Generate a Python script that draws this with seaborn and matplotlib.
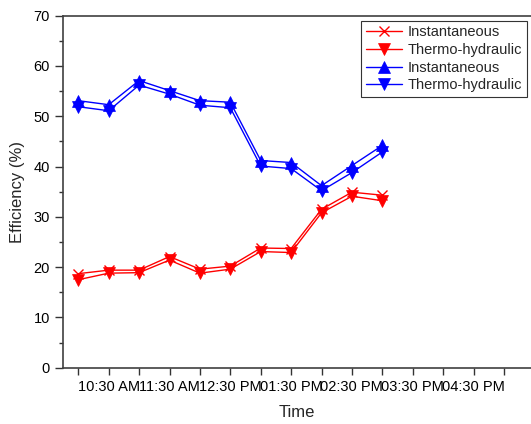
import matplotlib
matplotlib.use("Agg")
import matplotlib.pyplot as plt
import seaborn as sns
import pandas as pd
import numpy as np

# Time in hours (10.0 = 10:00 AM)
hours = [10.0, 10.5, 11.0, 11.5, 12.0, 12.5, 13.0, 13.5, 14.0, 14.5, 15.0]
red_inst = [18.7, 19.4, 19.4, 22.1, 19.6, 20.2, 23.8, 23.7, 31.5, 34.9, 34.3]
red_thermo = [17.5, 18.8, 18.9, 21.4, 18.8, 19.6, 23.1, 22.9, 30.8, 34.1, 33.2]
blue_inst = [53.1, 52.3, 57.1, 55.1, 53.1, 52.8, 41.2, 40.8, 36.2, 40.2, 44.2]
blue_thermo = [51.9, 51.1, 56.2, 54.4, 52.2, 51.7, 40.1, 39.6, 35.2, 38.8, 42.9]
series_labels = ["Instantaneous", "Thermo-hydraulic", "Instantaneous", "Thermo-hydraulic"]
tick_hours = [10.0, 10.5, 11.0, 11.5, 12.0, 12.5, 13.0, 13.5, 14.0, 14.5, 15.0, 15.5, 16.0, 16.5, 17.0]
tick_labels = ["", "10:30 AM", "", "11:30 AM", "", "12:30 PM", "", "01:30 PM", "",
               "02:30 PM", "", "03:30 PM", "", "04:30 PM", ""]

sns.set_style("ticks")
plt.rcParams['font.family'] = ['Liberation Sans', 'DejaVu Sans']

fig = plt.figure(figsize=(5.31, 4.24), dpi=100)
ax = fig.add_axes([63/531, 1 - 367.7/424, 468/531, (367.7 - 15.7)/424])

RED = "#FF0000"
BLUE = "#0000FF"
specs = [
    (red_inst, RED, "x", 7),
    (red_thermo, RED, "v", 8),
    (blue_inst, BLUE, "^", 8),
    (blue_thermo, BLUE, "v", 8),
]
for (vals, col, mk, ms), lab in zip(specs, series_labels):
    df = pd.DataFrame({"Time": hours, "Efficiency": vals})
    sns.lineplot(data=df, x="Time", y="Efficiency", ax=ax, color=col, marker=mk,
                 markersize=ms, markeredgecolor=col, markeredgewidth=1.0 if mk == "x" else 0.5,
                 linewidth=1.0, label=lab)

ax.set_xlim(9.7485, 17.445)
ax.set_ylim(0, 70)
ax.set_xticks(tick_hours)
ax.set_xticklabels(tick_labels, fontsize=10.5)
ax.set_yticks(np.arange(0, 71, 10))
ax.set_yticks(np.arange(5, 70, 10), minor=True)
ax.tick_params(axis='y', which='major', direction='out', length=6, width=1, labelsize=10.5, colors='#333333', labelcolor='black')
ax.tick_params(axis='y', which='minor', direction='out', length=3, width=1, colors='#333333')
ax.tick_params(axis='x', which='major', direction='out', length=5, width=1, colors='#333333', labelcolor='black', pad=4)
ax.set_xlabel("Time", fontsize=12, labelpad=8)
ax.set_ylabel("Efficiency (%)", fontsize=12, labelpad=6)

for s in ['left', 'bottom', 'top']:
    ax.spines[s].set_visible(True)
    ax.spines[s].set_color('#404040')
    ax.spines[s].set_linewidth(1.2)
ax.spines['right'].set_visible(False)

leg = ax.legend(loc='upper right', bbox_to_anchor=(0.991, 0.985), fontsize=10.5,
                frameon=True, fancybox=False, edgecolor='#333333', framealpha=1,
                handlelength=2.5, labelspacing=0.25, borderpad=0.3, handletextpad=0.4,
                borderaxespad=0)
leg.get_frame().set_linewidth(0.8)

fig.savefig("out.png", dpi=100)
